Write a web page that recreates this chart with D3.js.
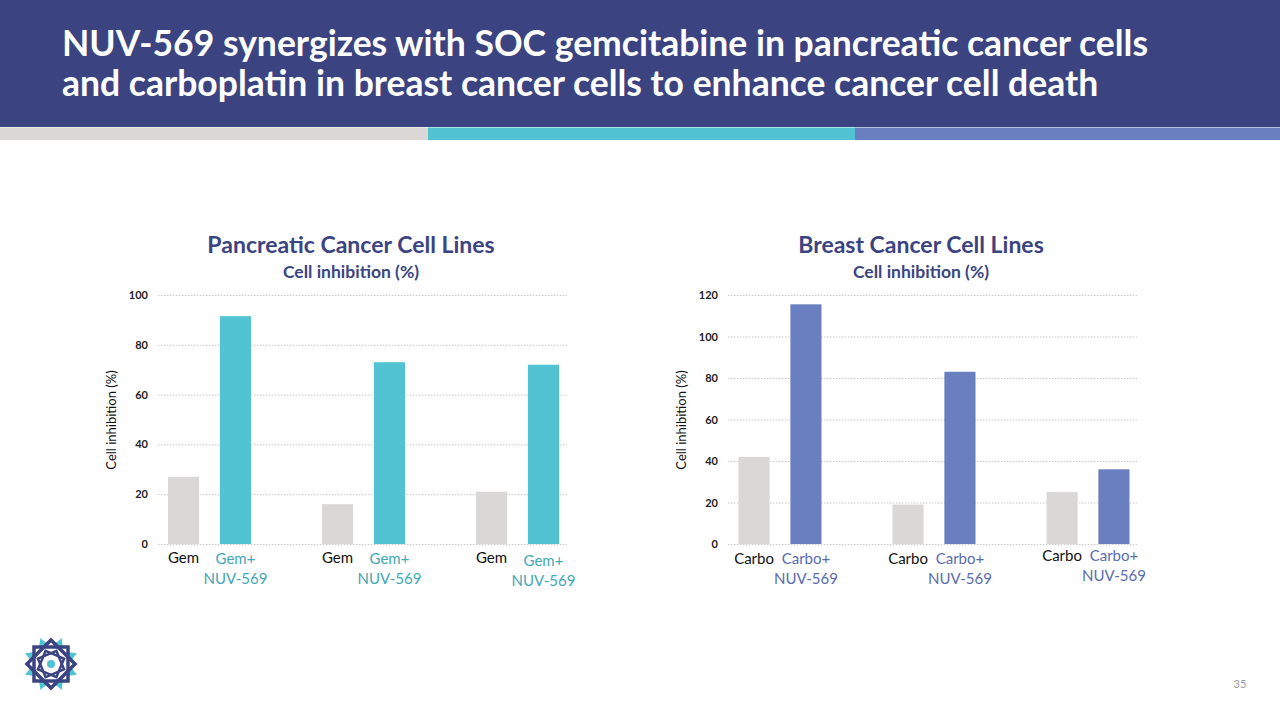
<!DOCTYPE html>
<html><head><meta charset="utf-8">
<script src="https://cdn.jsdelivr.net/npm/d3@7"></script>
<style>
html,body{margin:0;padding:0;background:#fff;}
svg{display:block;font-family:Lato,"Open Sans",sans-serif;}
</style></head>
<body>
<svg id="c" width="1280" height="720"></svg>
<script>
// ---- data ----
const titleLines = ["NUV-569 synergizes with SOC gemcitabine in pancreatic cancer cells",
                    "and carboplatin in breast cancer cells to enhance cancer cell death"];
const groups = ["g1","g2","g3"];
const pancSingle = [27, 16, 21];
const pancCombo  = [91.5, 73, 72];
const breastSingle = [42, 19, 25];
const breastCombo  = [115.5, 83, 36];
const pancTicks = [0,20,40,60,80,100];
const breastTicks = [0,20,40,60,80,100,120];
const pancLabels = {single:"Gem", combo:["Gem+","NUV-569"]};
const breastLabels = {single:"Carbo", combo:["Carbo+","NUV-569"]};

const svg = d3.select("#c");
const NAVY = "#3B4481", GRAY="#D9D8D6", TEAL="#52C3D3", BLUE="#6A7FC0";

// header
svg.append("rect").attr("x",0).attr("y",0).attr("width",1280).attr("height",127).attr("fill",NAVY);
svg.append("rect").attr("x",0).attr("y",127).attr("width",428).attr("height",13).attr("fill",GRAY);
svg.append("rect").attr("x",428).attr("y",127).attr("width",427).attr("height",13).attr("fill",TEAL);
svg.append("rect").attr("x",855).attr("y",127).attr("width",425).attr("height",13).attr("fill",BLUE);
svg.append("line").attr("x1",0).attr("x2",1280).attr("y1",127.5).attr("y2",127.5).attr("stroke","#ffffff").attr("stroke-opacity",0.5);
titleLines.forEach((t,i)=>{
  svg.append("text").attr("x",62).attr("y",56+i*40).attr("fill","#fff")
    .attr("font-size",35.5).attr("font-weight","bold").text(t);
});

function chart(opt){
  const g = svg.append("g");
  const y = d3.scaleLinear().domain([0,opt.max]).range([544,295]);
  const x0 = d3.scaleBand().domain(groups).range([opt.x0, opt.x0+462]);
  const x1 = d3.scaleBand().domain(["single","combo"]).range([36,119]).paddingInner(0.4);
  // grid
  g.selectAll(".grid").data(opt.ticks).join("line")
    .attr("x1",opt.gx).attr("x2",opt.gx+409)
    .attr("y1",d=>y(d)+0.5).attr("y2",d=>y(d)+0.5)
    .attr("stroke","#C8C8C8").attr("stroke-dasharray","1.5,1.5").attr("stroke-width",1);
  const ax = g.append("g").attr("transform",`translate(${opt.gx-10},0)`)
    .call(d3.axisLeft(y).tickValues(opt.ticks).tickSize(0).tickPadding(0));
  ax.select(".domain").remove();
  ax.selectAll("text").attr("font-size",11).attr("font-family","Lato,sans-serif").attr("fill","#222").attr("font-weight","bold");
  // y title
  g.append("text").attr("transform",`translate(${opt.gx-42},420) rotate(-90)`)
    .attr("text-anchor","middle").attr("font-size",13).attr("fill","#111").text("Cell inhibition (%)");
  // bars
  groups.forEach((gr,i)=>{
    const bx = x0(gr);
    g.append("rect").attr("x",bx+x1("single")).attr("width",x1.bandwidth())
      .attr("y",y(opt.single[i])).attr("height",y(0)-y(opt.single[i])).attr("fill",GRAY);
    g.append("rect").attr("x",bx+x1("combo")).attr("width",x1.bandwidth())
      .attr("y",y(opt.combo[i])).attr("height",y(0)-y(opt.combo[i])).attr("fill",opt.color);
    const cs = bx+x1("single")+x1.bandwidth()/2, cc = bx+x1("combo")+x1.bandwidth()/2;
    const dy = opt.labDy[i];
    g.append("text").attr("x",cs).attr("y",563+opt.singleDy[i]).attr("text-anchor","middle").attr("font-size",15).attr("fill","#111").text(opt.labels.single);
    opt.labels.combo.forEach((l,j)=>{
      g.append("text").attr("x",cc).attr("y",564+dy+j*20).attr("text-anchor","middle").attr("font-size",15).attr("fill",opt.labColor).text(l);
    });
  });
  // titles
  g.append("text").attr("x",opt.gx+193).attr("y",253).attr("text-anchor","middle").attr("font-size",23).attr("font-weight","bold").attr("fill",NAVY).text(opt.title);
  g.append("text").attr("x",opt.gx+193).attr("y",278).attr("text-anchor","middle").attr("font-size",17.5).attr("font-weight","bold").attr("fill",NAVY).text("Cell inhibition (%)");
}
chart({max:100,ticks:pancTicks,x0:132,gx:158,single:pancSingle,combo:pancCombo,color:TEAL,labColor:"#3FA8B6",labels:pancLabels,title:"Pancreatic Cancer Cell Lines",labDy:[0,0,2],singleDy:[0,0,0]});
chart({max:120,ticks:breastTicks,x0:702.5,gx:728,single:breastSingle,combo:breastCombo,color:BLUE,labColor:"#5A6CAE",labels:breastLabels,title:"Breast Cancer Cell Lines",labDy:[0,0,-3],singleDy:[1,1,-2]});

// logo
const lg = svg.append("g").attr("transform","translate(51,664)");
d3.range(8).forEach(i=>{
  const a=(i*45+22.5)*Math.PI/180;
  const r1=20,r2=28;
  const pts=[[Math.cos(a-0.25)*r1,Math.sin(a-0.25)*r1],[Math.cos(a)*r2,Math.sin(a)*r2],[Math.cos(a+0.25)*r1,Math.sin(a+0.25)*r1]];
  lg.append("path").attr("d",d3.line()(pts)+"Z").attr("fill",TEAL);
});
[0,45].forEach(r=>{
  lg.append("rect").attr("x",-17).attr("y",-17).attr("width",34).attr("height",34)
    .attr("transform",`rotate(${r})`).attr("fill","none").attr("stroke",NAVY).attr("stroke-width",3.5);
  lg.append("rect").attr("x",-10).attr("y",-10).attr("width",20).attr("height",20)
    .attr("transform",`rotate(${r+22.5})`).attr("fill","none").attr("stroke",NAVY).attr("stroke-width",2.5);
});
lg.append("circle").attr("r",4).attr("fill",TEAL);

svg.append("text").attr("x",1240).attr("y",688).attr("text-anchor","middle").attr("font-size",11).attr("fill","#999").text("35");
</script>
</body></html>
